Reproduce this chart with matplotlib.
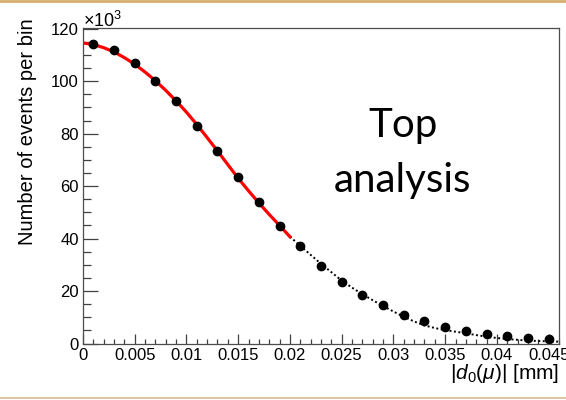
import matplotlib
matplotlib.use("Agg")
import matplotlib.pyplot as plt
from matplotlib.ticker import MultipleLocator, AutoMinorLocator
from matplotlib.lines import Line2D

plt.rcParams['font.family'] = ['Liberation Sans', 'DejaVu Sans']
plt.rcParams['mathtext.fontset'] = 'custom'
plt.rcParams['mathtext.rm'] = 'Liberation Sans'
plt.rcParams['mathtext.it'] = 'Liberation Sans:italic'

# binned data: |d0| bin centres [mm], events per bin (x10^3)
bin_x = [0.001, 0.003, 0.005, 0.007, 0.009, 0.011, 0.013, 0.015, 0.017, 0.019,
         0.021, 0.023, 0.025, 0.027, 0.029, 0.031, 0.033, 0.035, 0.037, 0.039,
         0.041, 0.043, 0.045]
events = [114.1, 112.1, 107.0, 100.1, 92.6, 82.8, 73.3, 63.4, 53.9, 44.9,
          37.1, 29.6, 23.5, 18.4, 14.5, 11.0, 8.4, 6.4, 4.9, 3.6,
          2.9, 2.0, 1.6]

# fit curve: fitted range (red) and extrapolation (dotted)
fit_x = [0.000, 0.001, 0.002, 0.003, 0.004, 0.005, 0.006, 0.007, 0.008, 0.009,
         0.010, 0.011, 0.012, 0.013, 0.014, 0.015, 0.016, 0.017, 0.018, 0.019, 0.020]
fit_y = [114.6, 114.0, 112.8, 111.2, 109.0, 106.5, 103.5, 100.2, 96.5, 92.5,
         88.2, 83.5, 78.5, 73.4, 68.2, 63.0, 58.2, 53.6, 49.2, 45.0, 40.7]
ext_x = [0.020, 0.021, 0.022, 0.023, 0.024, 0.025, 0.026, 0.027, 0.028, 0.029,
         0.030, 0.031, 0.032, 0.033, 0.034, 0.035, 0.036, 0.037, 0.038, 0.039,
         0.040, 0.041, 0.042, 0.043, 0.044, 0.045, 0.046]
ext_y = [40.7, 37.3, 33.8, 30.4, 27.2, 24.0, 21.3, 18.8, 16.5, 14.3,
         12.2, 10.2, 8.4, 6.9, 5.9, 5.1, 4.5, 3.9, 3.2, 2.6,
         2.1, 1.7, 1.4, 1.1, 0.95, 0.8, 0.7]

fig = plt.figure(figsize=(5.66, 4.0), dpi=100)
ax = fig.add_axes([0.1466, 0.14125, 0.8410, 0.78875])

ax.plot(ext_x, ext_y, color='black', linestyle=(0, (1, 1.3)), linewidth=1.4)
ax.plot(fit_x, fit_y, color='#ff0000', linewidth=2.3)
ax.plot(bin_x, events, 'o', color='black', markersize=6)

ax.set_xlim(0, 0.046)
ax.set_ylim(0, 120.3)

ax.yaxis.set_major_locator(MultipleLocator(20))
ax.yaxis.set_minor_locator(AutoMinorLocator(4))
ax.set_xticks([0, 0.005, 0.01, 0.015, 0.02, 0.025, 0.03, 0.035, 0.04, 0.045])
ax.set_xticklabels(['0', '0.005', '0.01', '0.015', '0.02', '0.025', '0.03',
                    '0.035', '0.04', '0.045'])
ax.xaxis.set_minor_locator(MultipleLocator(0.001))

ax.tick_params(axis='both', which='both', direction='in', colors='0.25',
               labelcolor='black', labelsize=12, width=0.9)
ax.tick_params(axis='y', which='major', length=11, pad=3)
ax.tick_params(axis='y', which='minor', length=6)
ax.tick_params(axis='x', which='major', length=7, pad=3)
ax.tick_params(axis='x', which='minor', length=3.7)
for s in ax.spines.values():
    s.set_color('0.3')
    s.set_linewidth(0.9)

ax.set_ylabel('Number of events per bin', fontsize=14.5, loc='top')
ax.yaxis.set_label_coords(-0.097, 1.03)
ax.set_xlabel(r'|$d_{0}$($\mu$)| [mm]', fontsize=15, loc='right')
ax.xaxis.set_label_coords(1.0, -0.06)

ax.text(0.0, 0.99, r'$\times10^{3}$', transform=ax.transAxes, fontsize=13,
        ha='left', va='bottom')

ax.text(0.672, 0.6545, 'Top', transform=ax.transAxes, fontsize=29,
        family='Lato', ha='center', va='baseline')
ax.text(0.672, 0.480, 'analysis', transform=ax.transAxes, fontsize=29,
        family='Lato', ha='center', va='baseline')

# thin slide border lines at top and bottom
fig.add_artist(Line2D([0, 1], [0.9975, 0.9975], transform=fig.transFigure,
                      color='#d6ae70', linewidth=2.0))
fig.add_artist(Line2D([0, 1], [0.004, 0.004], transform=fig.transFigure,
                      color='#dcc6a4', linewidth=1.5))

fig.savefig('out.png', dpi=100)
